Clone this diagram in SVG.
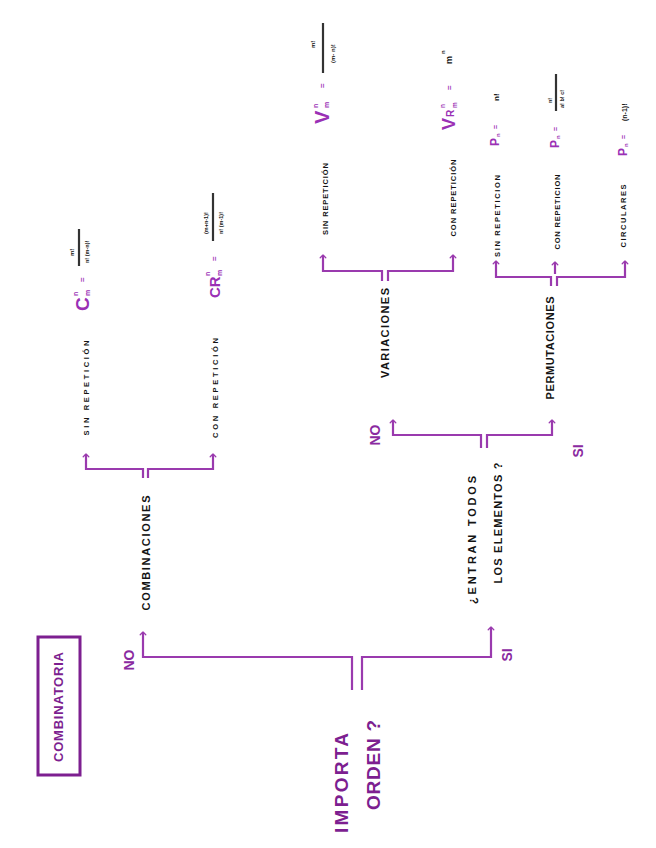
<svg xmlns="http://www.w3.org/2000/svg" width="656" height="848" viewBox="0 0 656 848">
<defs>
<marker id="arr" viewBox="-5 -5 10 10" markerWidth="8" markerHeight="8" refX="0" refY="0" orient="auto" markerUnits="userSpaceOnUse">
<path d="M-3.5,-3.5 L0,0 L-3.5,3.5" fill="none" stroke="#9a3aae" stroke-width="1.6" stroke-linecap="round" stroke-linejoin="round"/>
</marker>
</defs>
<style>
.ln{fill:none;stroke:#9a3aae;stroke-width:2.2;stroke-linejoin:miter}
.ar{marker-end:url(#arr)}
text{font-family:"Liberation Sans","DejaVu Sans",sans-serif;dominant-baseline:central}
.lb{fill:#141414;font-size:11px;font-weight:bold;text-anchor:middle}
.sm{fill:#141414;font-size:7.5px;font-weight:bold;text-anchor:middle}
.big{fill:#7d1f90;font-size:19px;font-weight:bold;text-anchor:middle}
.ans{fill:#8a2aa0;font-size:14px;font-weight:bold;text-anchor:middle}
.fp{fill:#9a30b5;font-weight:bold;text-anchor:start}
.fk{fill:#141414;font-weight:bold;text-anchor:start}
.bar{stroke:#333;stroke-width:2.2}
</style>
<rect width="656" height="848" fill="#ffffff"/>

<g id="title">
<rect x="38" y="637" width="42" height="138" fill="none" stroke="#7d1f90" stroke-width="3"/>
<text transform="translate(58,707) rotate(-90)" style="fill:#7d1f90;font-size:13px;font-weight:bold;text-anchor:middle" textLength="110" lengthAdjust="spacing">COMBINATORIA</text>
</g>

<g id="connectors">
<path class="ln ar" d="M352,690 V657 H143 V632"/>
<path class="ln ar" d="M362,690 V657 H491 V627"/>
<path class="ln ar" d="M143,478 V469 H86 V454"/>
<path class="ln ar" d="M148,478 V469 H213 V454"/>
<path class="ln ar" d="M481,448 V435 H393 V420"/>
<path class="ln ar" d="M487,448 V435 H552 V420"/>
<path class="ln ar" d="M382,281 V271 H323 V255"/>
<path class="ln ar" d="M388,281 V271 H453 V255"/>
<path class="ln ar" d="M551,286 V277 H496 V261"/>
<path class="ln ar" d="M557,286 V277 H625 V261"/>
<path class="ln ar" d="M555,274 V262"/>
</g>

<g id="root">
<text class="big" transform="translate(341,783) rotate(-90)" textLength="100" lengthAdjust="spacing">IMPORTA</text>
<text class="big" transform="translate(373,765) rotate(-90)" textLength="90" lengthAdjust="spacing">ORDEN ?</text>
</g>

<g id="no-main"><text class="ans" transform="translate(129,660) rotate(-90)">NO</text></g>
<g id="si-main"><text class="ans" transform="translate(507,655) rotate(-90)">SI</text></g>

<g id="combinaciones">
<text class="lb" transform="translate(146,553) rotate(-90)" textLength="115" lengthAdjust="spacing">COMBINACIONES</text>
</g>

<g id="comb-sin">
<text class="sm" transform="translate(86,388) rotate(-90)" textLength="95" lengthAdjust="spacing">SIN REPETICIÓN</text>
<g transform="translate(82,311) rotate(-90)">
<text class="fp" x="0" y="0" style="font-size:19px">C</text>
<text class="fp" x="15" y="-7" style="font-size:7px">n</text>
<text class="fp" x="15" y="5" style="font-size:7px">m</text>
<text class="fp" x="29" y="0" style="font-size:8px">=</text>
<line class="bar" x1="45" y1="-3" x2="82" y2="-3"/>
<text class="fk" x="55" y="-10" style="font-size:6px">m!</text>
<text class="fk" x="48" y="5" style="font-size:5.5px">n! (m-n)!</text>
</g>
</g>

<g id="comb-con">
<text class="sm" transform="translate(215,388) rotate(-90)" textLength="100" lengthAdjust="spacing">CON REPETICIÓN</text>
<g transform="translate(214,298) rotate(-90)">
<text class="fp" x="0" y="0" style="font-size:15px">CR</text>
<text class="fp" x="22" y="-7" style="font-size:7px">n</text>
<text class="fp" x="22" y="5" style="font-size:7px">m</text>
<text class="fp" x="37" y="0" style="font-size:8px">=</text>
<line class="bar" x1="57" y1="-1" x2="105" y2="-1"/>
<text class="fk" x="64" y="-8" style="font-size:5.5px">(m+n-1)!</text>
<text class="fk" x="64" y="7" style="font-size:5.5px">n! (m-1)!</text>
</g>
</g>

<g id="entran">
<text class="lb" transform="translate(472,540) rotate(-90)" textLength="128" lengthAdjust="spacing">¿ENTRAN TODOS</text>
<text class="lb" transform="translate(498,523) rotate(-90)" textLength="121" lengthAdjust="spacing">LOS ELEMENTOS ?</text>
</g>

<g id="no-2"><text class="ans" transform="translate(375,435) rotate(-90)">NO</text></g>
<g id="si-2"><text class="ans" transform="translate(578,451) rotate(-90)">SI</text></g>

<g id="variaciones">
<text class="lb" transform="translate(385,333) rotate(-90)" textLength="90" lengthAdjust="spacing">VARIACIONES</text>
</g>

<g id="permutaciones">
<text class="lb" transform="translate(550,348) rotate(-90)" textLength="103" lengthAdjust="spacing">PERMUTACIONES</text>
</g>

<g id="var-sin">
<text class="sm" transform="translate(325,199) rotate(-90)" textLength="72" lengthAdjust="spacing">SIN REPETICIÓN</text>
<g transform="translate(322,124) rotate(-90)">
<text class="fp" x="0" y="0" style="font-size:20px">V</text>
<text class="fp" x="16" y="-7" style="font-size:7px">n</text>
<text class="fp" x="16" y="4" style="font-size:7px">m</text>
<text class="fp" x="36" y="0" style="font-size:8px">=</text>
<line class="bar" x1="51" y1="1" x2="101" y2="1"/>
<text class="fk" x="76" y="-9" style="font-size:6px">m!</text>
<text class="fk" x="61" y="11" style="font-size:6px">(m- n)!</text>
</g>
</g>

<g id="var-con">
<text class="sm" transform="translate(453,198) rotate(-90)" textLength="77" lengthAdjust="spacing">CON REPETICIÓN</text>
<g transform="translate(449,130) rotate(-90)">
<text class="fp" x="0" y="0" style="font-size:18px">V</text>
<text class="fp" x="13" y="1" style="font-size:10px">R</text>
<text class="fp" x="22" y="-7" style="font-size:6.5px">n</text>
<text class="fp" x="22" y="5" style="font-size:6.5px">m</text>
<text class="fp" x="40" y="0" style="font-size:8px">=</text>
<text class="fk" x="66" y="0" style="font-size:9px">m</text>
<text class="fk" x="76" y="-6" style="font-size:6px">n</text>
</g>
</g>

<g id="perm-sin">
<text class="sm" transform="translate(497,216) rotate(-90)" textLength="82" lengthAdjust="spacing">SIN REPETICION</text>
<g transform="translate(495,146) rotate(-90)">
<text class="fp" x="0" y="0" style="font-size:12px">P</text>
<text class="fp" x="9" y="3" style="font-size:6px">n</text>
<text class="fp" x="17" y="0" style="font-size:7px">=</text>
<text class="fk" x="45" y="1" style="font-size:8px">n!</text>
</g>
</g>

<g id="perm-con">
<text class="sm" transform="translate(557,212) rotate(-90)" textLength="75" lengthAdjust="spacing">CON REPETICION</text>
<g transform="translate(555,148) rotate(-90)">
<text class="fp" x="0" y="0" style="font-size:12px">P</text>
<text class="fp" x="9" y="3" style="font-size:6px">n</text>
<text class="fp" x="17" y="0" style="font-size:7px">=</text>
<line class="bar" x1="37" y1="1" x2="74" y2="1"/>
<text class="fk" x="45" y="-5" style="font-size:5.5px">n!</text>
<text class="fk" x="40" y="7" style="font-size:5.5px">a! b! c!</text>
</g>
</g>

<g id="perm-circ">
<text class="sm" transform="translate(623,216) rotate(-90)" textLength="63" lengthAdjust="spacing">CIRCULARES</text>
<g transform="translate(623,156) rotate(-90)">
<text class="fp" x="0" y="0" style="font-size:12px">P</text>
<text class="fp" x="9" y="3" style="font-size:6px">n</text>
<text class="fp" x="17" y="0" style="font-size:7px">=</text>
<text class="fk" x="35" y="1" style="font-size:7px">(n-1)!</text>
</g>
</g>
</svg>
